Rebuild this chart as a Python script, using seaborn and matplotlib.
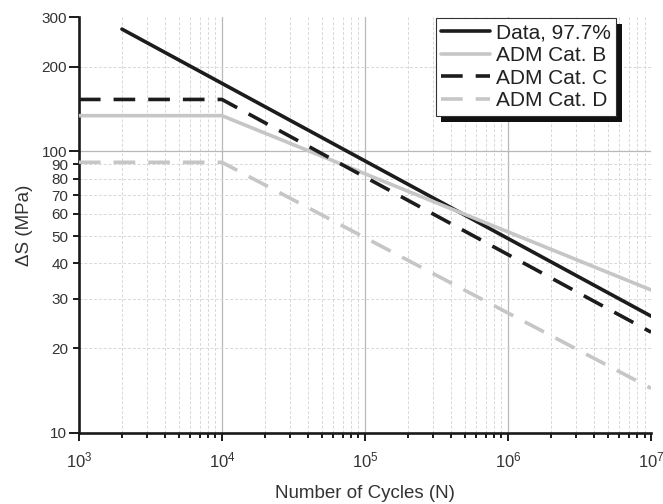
import numpy as np
import pandas as pd
import seaborn as sns
import matplotlib
matplotlib.use("Agg")
import matplotlib.pyplot as plt
import matplotlib.patheffects as pe
from matplotlib.ticker import FixedLocator, NullFormatter, FixedFormatter

# S-N curves: number of cycles vs. stress range (MPa)
data_cycles = [2e3, 1e7]
data_stress = [272, 26]

cat_b_cycles = [1e3, 1e4, 1e7]
cat_b_stress = [134, 134, 32.2]

cat_c_cycles = [1e3, 1e4, 1e7]
cat_c_stress = [153, 153, 22.8]

cat_d_cycles = [1e3, 1e4, 1e7]
cat_d_stress = [91.5, 91.5, 14.4]

series_names = ["Data, 97.7%", "ADM Cat. B", "ADM Cat. C", "ADM Cat. D"]

y_major = [10, 100, 200, 300]
y_minor = [20, 30, 40, 50, 60, 70, 80, 90]
x_major = [1e3, 1e4, 1e5, 1e6, 1e7]
x_major_labels = ["$10^3$", "$10^4$", "$10^5$", "$10^6$", "$10^7$"]

sns.set_theme(style="white")
plt.rcParams["font.family"] = ["Liberation Sans", "DejaVu Sans"]
plt.rcParams["mathtext.fontset"] = "custom"
plt.rcParams["mathtext.rm"] = "Liberation Sans"
plt.rcParams["mathtext.it"] = "Liberation Sans"

frames = []
for name, xs, ys in zip(series_names,
                        [data_cycles, cat_b_cycles, cat_c_cycles, cat_d_cycles],
                        [data_stress, cat_b_stress, cat_c_stress, cat_d_stress]):
    frames.append(pd.DataFrame({"N": xs, "S": ys, "series": name}))
df = pd.concat(frames, ignore_index=True)

fig = plt.figure(figsize=(6.63, 5.04), dpi=100)
ax = fig.add_axes([0.119, 0.141, 0.863, 0.825])

dark = "#1c1c1c"
light = "#c6c6c6"
palette = {series_names[0]: dark, series_names[1]: light,
           series_names[2]: dark, series_names[3]: light}
dashes = {series_names[0]: "", series_names[1]: "",
          series_names[2]: (6, 3.6), series_names[3]: (6, 3.6)}

sns.lineplot(data=df, x="N", y="S", hue="series", style="series",
             palette=palette, dashes=dashes, hue_order=series_names,
             style_order=series_names, linewidth=2.6, ax=ax, sort=False,
             estimator=None, zorder=3)

ax.set_xscale("log")
ax.set_yscale("log")
ax.set_xlim(1e3, 1e7)
ax.set_ylim(10, 300)

ax.xaxis.set_major_locator(FixedLocator(x_major))
ax.xaxis.set_major_formatter(FixedFormatter(x_major_labels))
x_minor = [m * d for d in [1e3, 1e4, 1e5, 1e6] for m in range(2, 10)]
ax.xaxis.set_minor_locator(FixedLocator(x_minor))
ax.xaxis.set_minor_formatter(NullFormatter())

ax.yaxis.set_major_locator(FixedLocator(y_major))
ax.yaxis.set_major_formatter(FixedFormatter([str(v) for v in y_major]))
ax.yaxis.set_minor_locator(FixedLocator(y_minor))
ax.yaxis.set_minor_formatter(FixedFormatter([str(v) for v in y_minor]))

major_grid = dict(color="#b8b8b8", linestyle="-", linewidth=0.9)
minor_grid = dict(color="#d8d8d8", linestyle=(0, (3, 2)), linewidth=0.7)
ax.grid(True, which="major", zorder=0, **major_grid)
ax.grid(True, which="minor", zorder=0, **minor_grid)
fig.canvas.draw()
for t in ax.yaxis.get_major_ticks():
    loc = t.get_loc()
    if abs(loc - 10) < 1e-6 or abs(loc - 300) < 1e-6:
        t.gridline.set_visible(False)
    elif abs(loc - 200) < 1e-6:
        t.gridline.set_color(minor_grid["color"])
        t.gridline.set_linestyle(minor_grid["linestyle"])
        t.gridline.set_linewidth(minor_grid["linewidth"])
for t in ax.xaxis.get_major_ticks():
    if t.get_loc() in (1e3, 1e7):
        t.gridline.set_visible(False)

for side in ["top", "right"]:
    ax.spines[side].set_visible(False)
for side in ["left", "bottom"]:
    ax.spines[side].set_color("#1a1a1a")
    ax.spines[side].set_linewidth(1.9)

ax.tick_params(axis="y", which="major", direction="out", length=7, width=1.4,
               color="#1a1a1a", labelsize=11, labelcolor="#333333", left=True, pad=1.5)
ax.tick_params(axis="y", which="minor", direction="out", length=4, width=1.4,
               color="#1a1a1a", labelsize=11, labelcolor="#333333", left=True, pad=3.5)
ax.tick_params(axis="x", which="major", direction="out", length=6, width=1.4,
               color="#1a1a1a", labelsize=12, labelcolor="#333333", bottom=True, pad=7)
ax.tick_params(axis="x", which="minor", direction="out", length=3.5, width=1.4,
               color="#1a1a1a", bottom=True)

ax.set_xlabel("Number of Cycles (N)", fontsize=13.5, color="#333333", labelpad=10)
ax.set_ylabel("ΔS (MPa)", fontsize=13.5, color="#333333", labelpad=6)

leg = ax.legend(loc="upper right", bbox_to_anchor=(0.939, 0.998), fontsize=15,
                frameon=True, fancybox=False, shadow=False,
                handlelength=2.35, handletextpad=0.3, borderpad=0.25,
                labelspacing=0.18, borderaxespad=0)
frame = leg.get_frame()
frame.set_edgecolor("#333333")
frame.set_linewidth(0.8)
frame.set_alpha(1.0)
frame.set_path_effects([pe.SimplePatchShadow(offset=(4, -4.5), shadow_rgbFace="#111111",
                                             alpha=1.0), pe.Normal()])
for text in leg.get_texts():
    text.set_color("#222222")

fig.savefig("out.png", dpi=100)
